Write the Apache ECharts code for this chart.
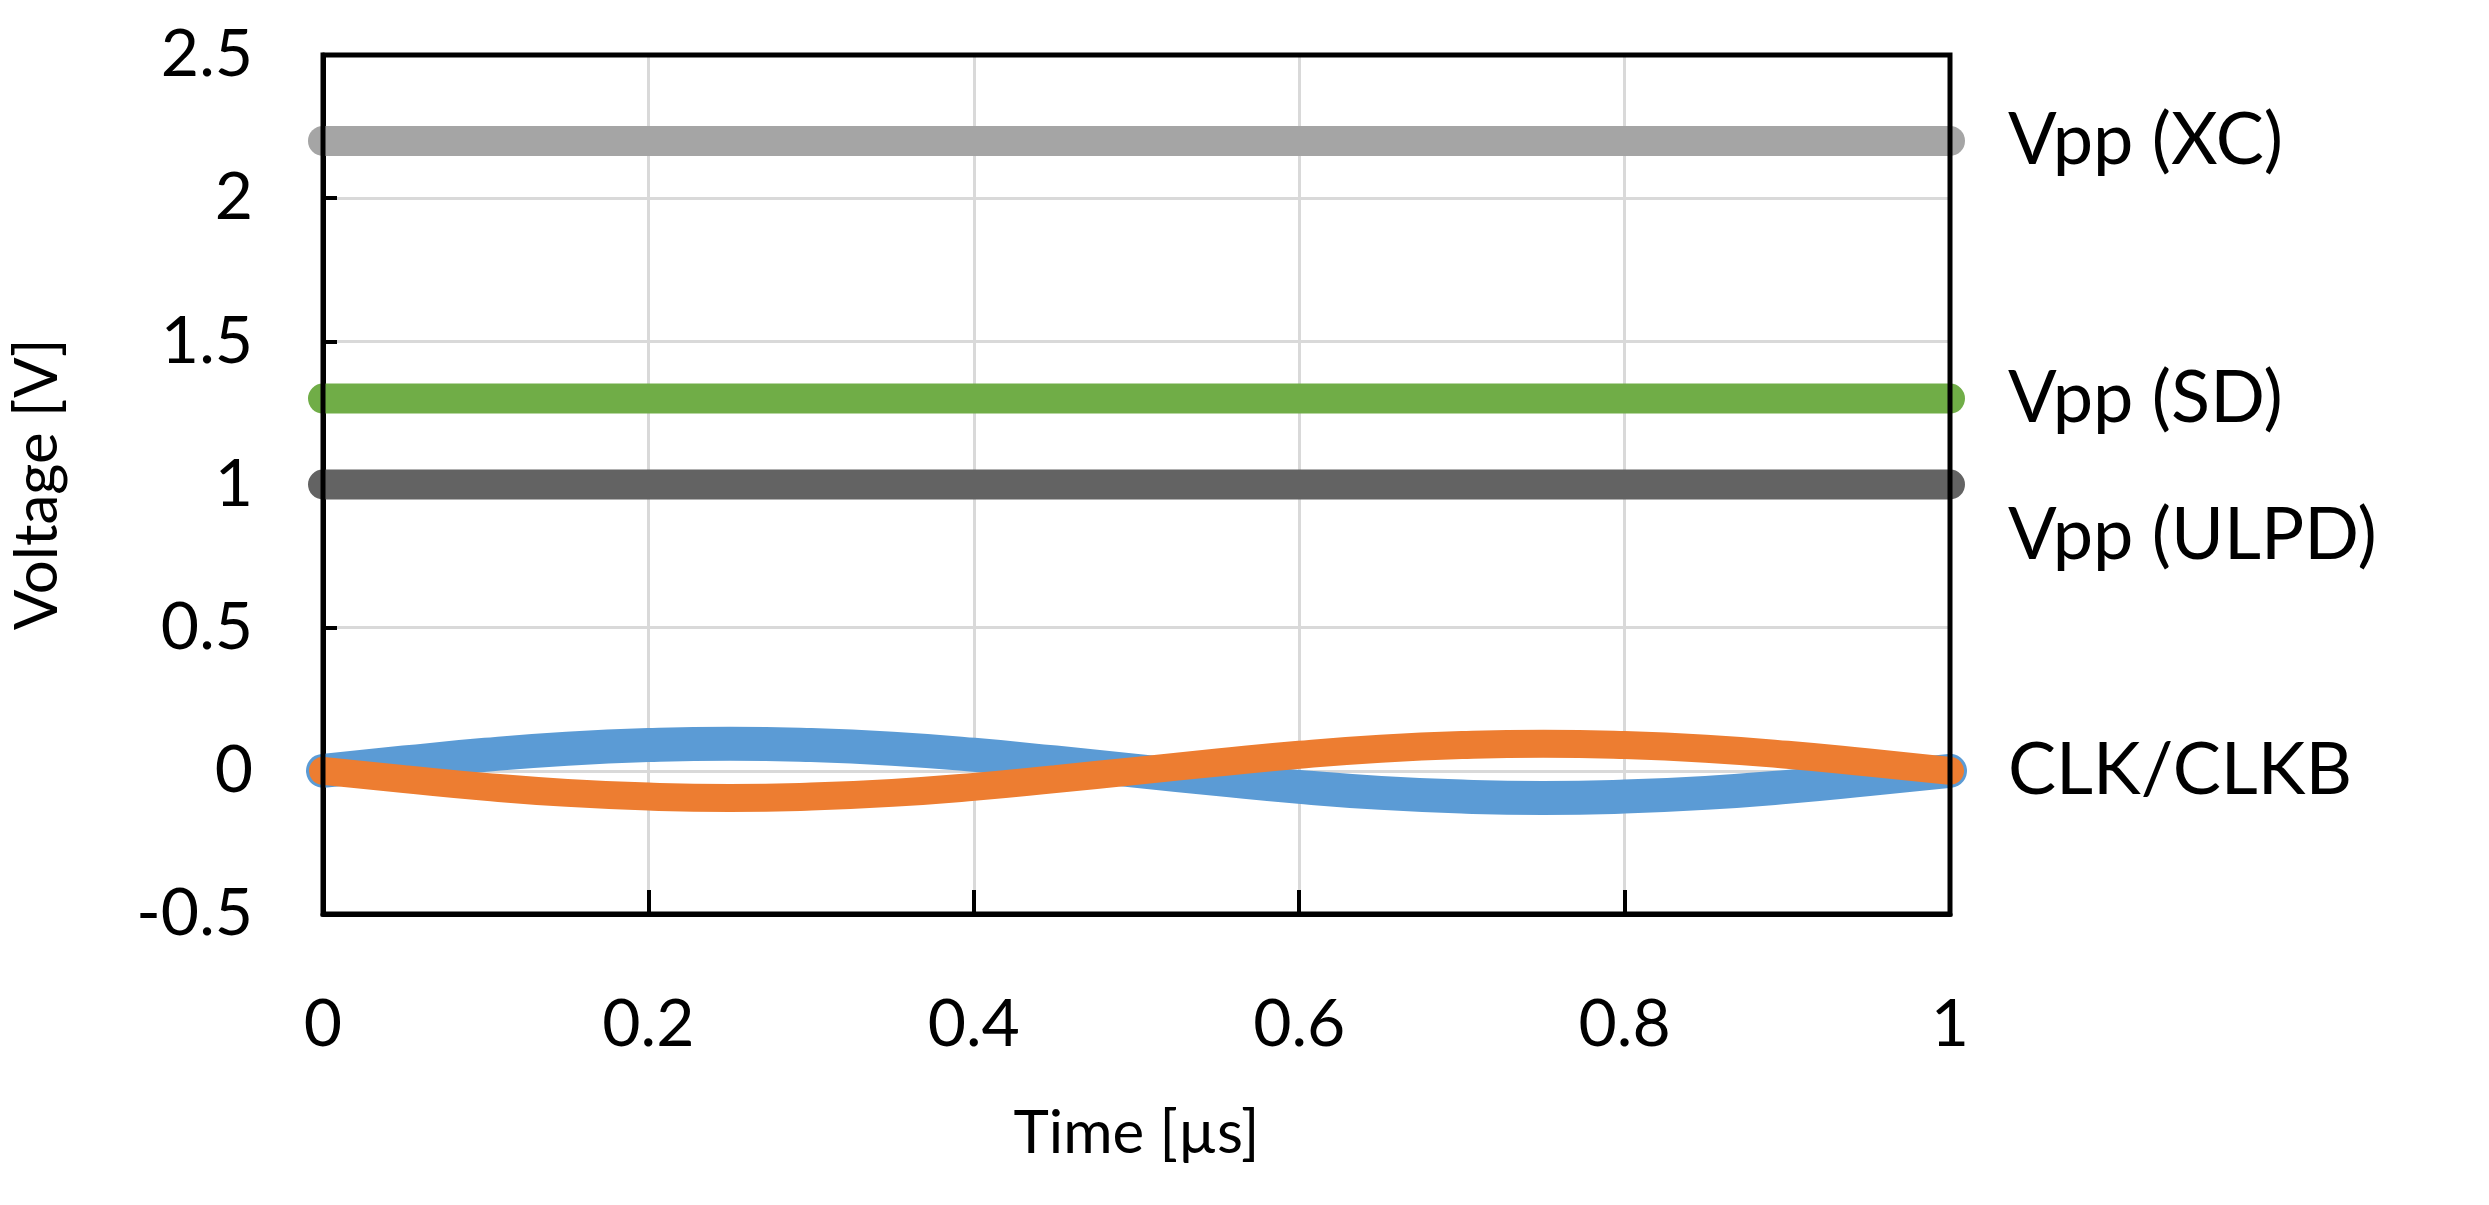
<!DOCTYPE html>
<html>
<head>
<meta charset="utf-8">
<script src="https://cdn.jsdelivr.net/npm/echarts@6/dist/echarts.min.js"></script>
<style>html,body{margin:0;background:#fff}#chart{width:2489px;height:1205px}</style>
</head>
<body>
<div id="chart"></div>
<script>
var timeUs = [0, 0.05, 0.1, 0.15, 0.2, 0.25, 0.3, 0.35, 0.4, 0.45, 0.5, 0.55, 0.6, 0.65, 0.7, 0.75, 0.8, 0.85, 0.9, 0.95, 1];
var clk = [0, 0.029, 0.056, 0.077, 0.09, 0.095, 0.09, 0.077, 0.056, 0.029, 0, -0.029, -0.056, -0.077, -0.09, -0.095, -0.09, -0.077, -0.056, -0.029, 0];
var clkb = [0, -0.029, -0.056, -0.077, -0.09, -0.095, -0.09, -0.077, -0.056, -0.029, 0, 0.029, 0.056, 0.077, 0.09, 0.095, 0.09, 0.077, 0.056, 0.029, 0];
var vppXC = 2.2, vppSD = 1.3, vppULPD = 1.0;
var labels = [
  {text: 'Vpp (XC)', y: 2.2},
  {text: 'Vpp (SD)', y: 1.3},
  {text: 'Vpp (ULPD)', y: 0.82},
  {text: 'CLK/CLKB', y: 0}
];

function flat(v) { return [[0, v], [1, v]]; }
function pairs(ys) { return timeUs.map(function (t, i) { return [t, ys[i]]; }); }

var font = 'Lato';
var myChart = echarts.init(document.getElementById('chart'));
function hline(v, color) {
  return {type: 'line', data: flat(v), showSymbol: false, silent: true,
    lineStyle: {color: color, width: 30, cap: 'round'}};
}
var option = {
  animation: false,
  grid: {left: 305, right: 539, top: 55, bottom: 291},
  xAxis: {
    type: 'value', min: 0, max: 1, interval: 0.2,
    name: 'Time [µs]', nameLocation: 'middle', nameGap: 190,
    nameTextStyle: {fontFamily: font, fontSize: 60, color: '#000'},
    axisLabel: {fontFamily: font, fontSize: 66, color: '#000', margin: 78},
    axisLine: {onZero: false, lineStyle: {color: '#000', width: 5}},
    axisTick: {inside: true, length: 24, lineStyle: {color: '#000', width: 4}},
    splitLine: {lineStyle: {color: '#d9d9d9', width: 3}}
  },
  yAxis: {
    type: 'value', min: -0.5, max: 2.5, interval: 0.5,
    name: 'Voltage [V]', nameLocation: 'middle', nameGap: 255,
    nameTextStyle: {fontFamily: font, fontSize: 60, color: '#000'},
    axisLabel: {fontFamily: font, fontSize: 66, color: '#000', margin: 70},
    axisLine: {lineStyle: {color: '#000', width: 5}},
    axisTick: {inside: true, length: 14, lineStyle: {color: '#000', width: 4}},
    splitLine: {lineStyle: {color: '#d9d9d9', width: 3}}
  },
  series: [
    hline(vppXC, '#a5a5a5'),
    hline(vppSD, '#70ad47'),
    hline(vppULPD, '#636363'),
    {type: 'line', data: pairs(clk), smooth: true, showSymbol: false, silent: true,
      lineStyle: {color: '#5b9bd5', width: 34, cap: 'round'}},
    {type: 'line', data: pairs(clkb), smooth: true, showSymbol: false, silent: true,
      lineStyle: {color: '#ed7d31', width: 28, cap: 'round'}}
  ]
};
myChart.setOption(option);
// frame and right-hand labels
var tl = myChart.convertToPixel({gridIndex: 0}, [0, 2.5]);
var br = myChart.convertToPixel({gridIndex: 0}, [1, -0.5]);
var g = [{type: 'rect', shape: {x: tl[0], y: tl[1], width: br[0] - tl[0], height: br[1] - tl[1]},
  style: {fill: 'none', stroke: '#000', lineWidth: 5}, z: 100}];
labels.forEach(function (l) {
  var p = myChart.convertToPixel({gridIndex: 0}, [1, l.y]);
  g.push({type: 'text', x: p[0] + 58, y: p[1],
    style: {text: l.text, font: '72px ' + font, fill: '#000', textVerticalAlign: 'middle'}});
});
myChart.setOption({graphic: g});
</script>
</body>
</html>
